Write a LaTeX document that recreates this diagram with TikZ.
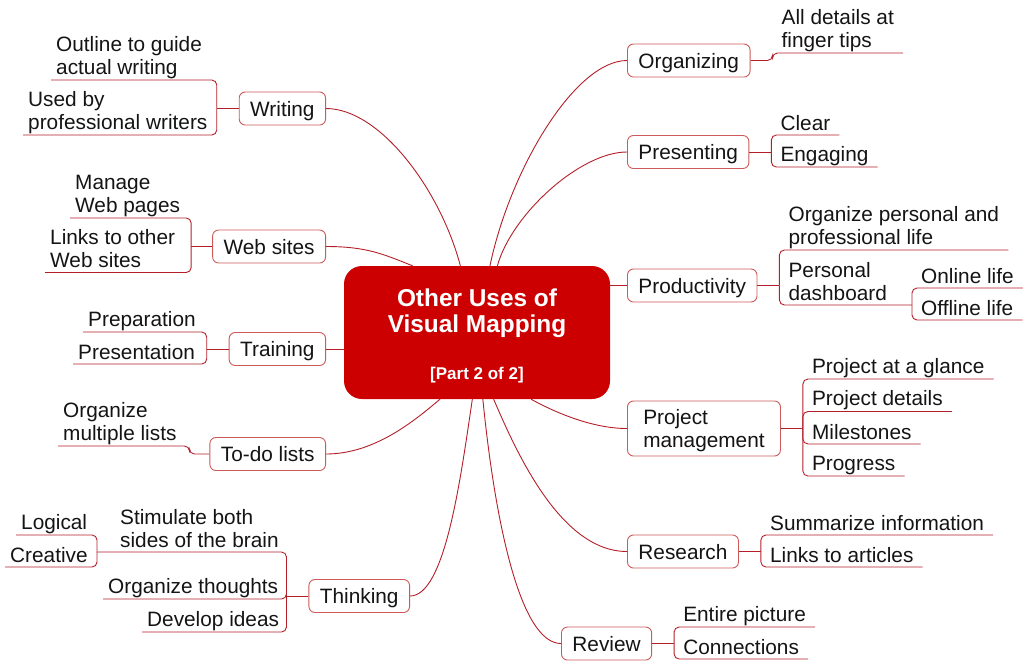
\documentclass[tikz,border=0pt]{standalone}
\usepackage{fontspec}
\setmainfont{Liberation Sans}
\usepackage{xcolor}
\usetikzlibrary{positioning,calc}

\definecolor{coreRed}{RGB}{204,0,0}
\definecolor{linkRed}{RGB}{180,30,40}
\definecolor{boxRed}{RGB}{205,90,90}
\definecolor{inkGray}{RGB}{20,20,20}

\newcommand\mapfont{\fontsize{20.8}{23}\selectfont}
\newcommand\titlefont{\fontsize{24.4}{26}\selectfont\bfseries}
\newcommand\partfont{\fontsize{17}{20}\selectfont\bfseries}
\newcommand\dn{\rule[-3.5pt]{0pt}{3.5pt}}

\tikzset{
    core/.style={fill=coreRed, rounded corners=18pt, minimum width=266pt, minimum height=133pt,
        text=white, font=\titlefont, align=center, inner sep=0pt},
    topic/.style={draw=boxRed, line width=0.9pt, rounded corners=6pt, fill=white, text=inkGray,
        font=\mapfont, inner xsep=11pt, inner ysep=0pt, minimum height=33pt, align=left},
    onel/.style={topic, text height=17.5pt, text depth=2pt},
    leafR/.style={inner xsep=9pt, inner ysep=1pt, text=inkGray, font=\mapfont, align=left, anchor=south west},
    leafL/.style={leafR, inner xsep=5pt},
    link/.style={draw=linkRed, line width=0.9pt},
    bracket/.style={link, rounded corners=5pt}
}

\begin{document}
\begin{tikzpicture}[x=1pt, y=1pt]
    \useasboundingbox (0,0) rectangle (1024,-665);

    % Center
    \node[core] (core) at (477,-332.5) {\rule{0pt}{24pt}Other Uses of\\Visual Mapping\\[21pt]{\partfont [Part 2 of 2]}};

    % Main topics
    \node[onel, anchor=east] (wri) at (326,-108.5) {Writing};
    \node[onel, anchor=east] (web) at (326,-246.5) {Web sites};
    \node[onel, anchor=east] (trn) at (326,-349) {Training};
    \node[onel, anchor=east] (tdl) at (326,-454) {To-do lists};
    \node[onel, anchor=east] (thk) at (410,-596) {Thinking};
    \node[onel, anchor=west] (org) at (627,-60.5) {Organizing};
    \node[onel, anchor=west] (pre) at (627,-152) {Presenting};
    \node[onel, anchor=west] (prd) at (627,-285.5) {Productivity};
    \node[topic, anchor=west, minimum height=55pt, minimum width=153pt, text depth=1pt] (pm) at (627,-428.5) {Project\\management};
    \node[onel, anchor=west] (res) at (627,-551.5) {Research};
    \node[onel, anchor=west] (rev) at (561,-643.5) {Review};

    % Links to the center
    \draw[link] (wri.east) .. controls +(54,0) and +(-20,76) .. (core.104);
    \draw[link] (web.east) .. controls +(40,0) and +(-30,12) .. (core.134);
    \draw[link] (trn.east) -- (trn.east -| core.west);
    \draw[link] (tdl.east) .. controls +(49,0) and +(-25,-21) .. (core.241);
    \draw[link] (thk.east) .. controls +(35,0) and +(-12,-81) .. (core.266);
    \draw[link] (org.west) .. controls +(-52,0) and +(20,96) .. (core.79);
    \draw[link] (pre.west) .. controls +(-47,0) and +(14,51) .. (core.73);
    \draw[link] (prd.west) -- (prd.west -| core.east);
    \draw[link] (pm.west) .. controls +(-37,0) and +(20,-11) .. (core.309);
    \draw[link] (res.west) .. controls +(-67,0) and +(22,-51) .. (core.284);
    \draw[link] (rev.west) .. controls +(-41,0) and +(12,-121) .. (core.275);

    % Organizing
    \coordinate[right=22pt of org] (jOrg);
    \node[leafR] (tips) at (jOrg |- 0,-53) {All details at\\finger tips\dn};
    \draw[bracket] (org.east) -- (jOrg) |- (tips.south east);

    % Presenting
    \coordinate[right=22pt of pre] (jPre);
    \draw[link] (pre.east) -- (jPre);
    \foreach \n/\y/\t in {clr/135/Clear, eng/167/Engaging} {
        \node[leafR] (\n) at (jPre |- 0,-\y) {\t\dn};
        \draw[bracket] (jPre) |- (\n.south east);
    }

    % Productivity
    \coordinate[right=22pt of prd] (jPrd);
    \draw[link] (prd.east) -- (jPrd);
    \node[leafR] (life) at (jPrd |- 0,-250) {Organize personal and\\professional life\dn};
    \node[leafR] (dash) at (jPrd |- 0,-305) {Personal\\dashboard\dn};
    \coordinate (jDash) at (912,-305);
    \draw[bracket] (jPrd) |- (life.south east);
    \draw[bracket] (jPrd) |- (jDash);
    \foreach \n/\y/\t in {onl/288/Online life, off/320/Offline life} {
        \node[leafR] (\n) at (jDash |- 0,-\y) {\t\dn};
        \draw[bracket] (jDash) |- (\n.south east);
    }

    % Project management
    \coordinate[right=22pt of pm] (jPm);
    \draw[link] (pm.east) -- (jPm);
    \foreach \n/\y/\t in {pag/379/Project at a glance, pdt/411.5/Project details, mil/444/Milestones, prg/476/Progress} {
        \node[leafR] (\n) at (jPm |- 0,-\y) {\t\dn};
        \draw[bracket] (jPm) |- (\n.south east);
    }

    % Research
    \coordinate[right=22pt of res] (jRes);
    \draw[link] (res.east) -- (jRes);
    \foreach \n/\y/\t in {sum/535/Summarize information, art/567/Links to articles} {
        \node[leafR] (\n) at (jRes |- 0,-\y) {\t\dn};
        \draw[bracket] (jRes) |- (\n.south east);
    }

    % Review
    \coordinate[right=22pt of rev] (jRev);
    \draw[link] (rev.east) -- (jRev);
    \foreach \n/\y/\t in {ent/627/Entire picture, con/659/Connections} {
        \node[leafR] (\n) at (jRev |- 0,-\y) {\t\dn};
        \draw[bracket] (jRev) |- (\n.south east);
    }

    % Writing
    \coordinate[left=22pt of wri] (jWri);
    \draw[link] (wri.west) -- (jWri);
    \foreach \n/\x/\y/\t in {otl/51/80/Outline to guide\\actual writing, usd/23/135/Used by\\professional writers} {
        \node[leafL] (\n) at (\x,-\y) {\t\dn};
        \draw[bracket] (jWri) |- (\n.south west);
    }

    % Web sites
    \coordinate[left=21pt of web] (jWeb);
    \draw[link] (web.west) -- (jWeb);
    \foreach \n/\x/\y/\t in {mng/70/218/Manage\\Web pages, lnk/45/272.5/Links to other\\Web sites} {
        \node[leafL] (\n) at (\x,-\y) {\t\dn};
        \draw[bracket] (jWeb) |- (\n.south west);
    }

    % Training
    \coordinate[left=22pt of trn] (jTrn);
    \draw[link] (trn.west) -- (jTrn);
    \foreach \n/\x/\y/\t in {prp/83/332/Preparation, prs/73/364/Presentation} {
        \node[leafL] (\n) at (\x,-\y) {\t\dn};
        \draw[bracket] (jTrn) |- (\n.south west);
    }

    % To-do lists
    \coordinate[left=20pt of tdl] (jTdl);
    \node[leafL] (mul) at (58,-446) {Organize\\multiple lists\dn};
    \draw[bracket] (tdl.west) -- (jTdl) |- (mul.south west);

    % Thinking
    \coordinate[left=22pt of thk] (jThk);
    \draw[link] (thk.west) -- (jThk);
    \node[leafL] (stm) at (115,-552) {Stimulate both\\sides of the brain\dn};
    \coordinate (jStm) at (97,-552);
    \draw[bracket] (jThk) |- (jStm);
    \foreach \n/\x/\y/\t in {ogt/103/599/Organize thoughts, dev/142/632/Develop ideas} {
        \node[leafL] (\n) at (\x,-\y) {\t\dn};
        \draw[bracket] (jThk) |- (\n.south west);
    }
    \foreach \n/\x/\y/\t in {lgc/16/535/Logical, crt/5/567/Creative} {
        \node[leafL] (\n) at (\x,-\y) {\t\dn};
        \draw[bracket] (jStm) |- (\n.south west);
    }
\end{tikzpicture}
\end{document}
